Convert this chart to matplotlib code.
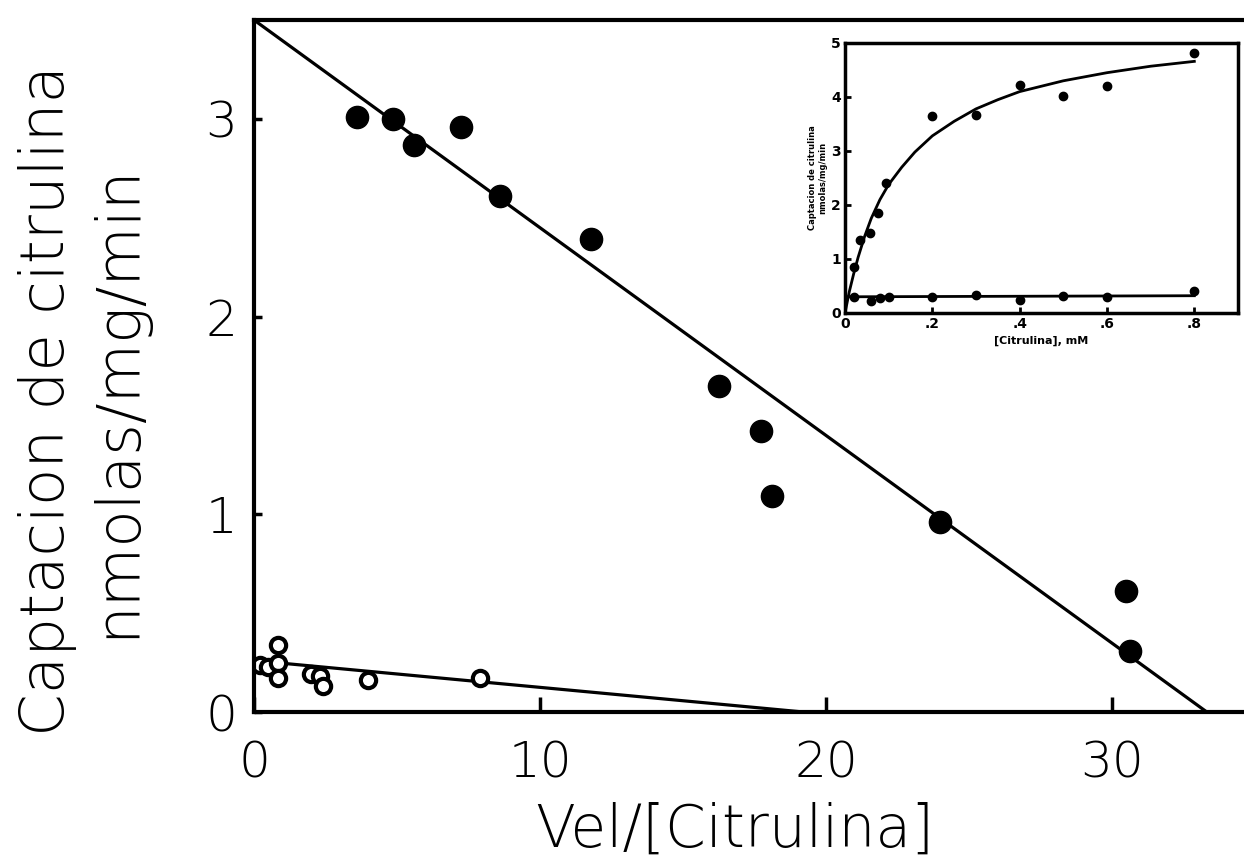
import numpy as np
import matplotlib
matplotlib.use('Agg')
import matplotlib.pyplot as plt

# main plot: Eadie-Hofstee
x_filled = [3.6, 4.86, 5.59, 7.23, 8.59, 11.77, 16.24, 17.71, 18.09, 23.96, 30.49, 30.6]
y_filled = [3.01, 3.0, 2.87, 2.96, 2.61, 2.39, 1.65, 1.42, 1.09, 0.96, 0.61, 0.31]

x_open = [0.2, 0.5, 0.85, 0.85, 0.85, 2.0, 2.3, 2.4, 4.0, 7.9]
y_open = [0.24, 0.23, 0.34, 0.25, 0.17, 0.19, 0.18, 0.13, 0.16, 0.17]

fit_filled_x = [0, 33.3]
fit_filled_y = [3.5, 0]
fit_open_x = [0, 19.2]
fit_open_y = [0.26, 0]

# inset: saturation curve
s_upper = [0.02, 0.035, 0.057, 0.076, 0.095, 0.2, 0.3, 0.4, 0.5, 0.6, 0.8]
v_upper = [0.86, 1.36, 1.48, 1.85, 2.4, 3.64, 3.67, 4.23, 4.01, 4.2, 4.81]
s_lower = [0.02, 0.06, 0.08, 0.1, 0.2, 0.3, 0.4, 0.5, 0.6, 0.8]
v_lower = [0.3, 0.22, 0.28, 0.3, 0.3, 0.33, 0.25, 0.32, 0.3, 0.4]

curve_s = [0.0, 0.005, 0.01, 0.02, 0.03, 0.045, 0.06, 0.08, 0.1, 0.13, 0.16, 0.2,
           0.25, 0.3, 0.35, 0.4, 0.5, 0.6, 0.7, 0.8]
curve_v = [0.0, 0.2, 0.4, 0.73, 1.03, 1.42, 1.75, 2.1, 2.38, 2.7, 2.98, 3.28,
           3.55, 3.78, 3.95, 4.1, 4.3, 4.45, 4.57, 4.66]
lower_line_s = [0.0, 0.8]
lower_line_v = [0.3, 0.32]

plt.rcParams['font.family'] = ['DejaVu Sans']

fig = plt.figure(figsize=(12.44, 8.65), dpi=100)
ax = fig.add_axes([254/1244, 1 - 712/865, 1 - 254/1244, (712 - 20)/865])

ax.plot(fit_filled_x, fit_filled_y, color='black', lw=2.3)
ax.plot(fit_open_x, fit_open_y, color='black', lw=2.3)
ax.plot(x_filled, y_filled, 'o', color='black', ms=16)
ax.plot(x_open, y_open, 'o', mfc='white', mec='black', ms=11, mew=3)

ax.set_xlim(0, 34.6)
ax.set_ylim(0, 3.5)
ax.set_xticks([0, 10, 20, 30])
ax.set_yticks([0, 1, 2, 3])
ax.tick_params(axis='x', direction='in', length=11, width=2.5, labelsize=36, pad=20)
ax.tick_params(axis='y', direction='in', length=6, width=2.5, labelsize=36, pad=12)
for lab in ax.get_xticklabels() + ax.get_yticklabels():
    lab.set_fontweight('light')
for s in ['left', 'bottom', 'top']:
    ax.spines[s].set_linewidth(3)
ax.spines['right'].set_visible(False)

ax.set_xlabel('Vel/[Citrulina]', fontsize=42, fontweight='light')
ax.xaxis.set_label_coords(0.486, -0.13)
ax.set_ylabel('Captacion de citrulina\nnmolas/mg/min', fontsize=44, fontweight='light',
              linespacing=1.25)
ax.yaxis.set_label_coords(-0.108, 0.45)

# inset
ins = fig.add_axes([845/1244, 1 - 313/865, (1238 - 845)/1244, (313 - 43)/865])
ins.plot(curve_s, curve_v, color='black', lw=2)
ins.plot(lower_line_s, lower_line_v, color='black', lw=2)
ins.plot(s_upper, v_upper, 'o', color='black', ms=6)
ins.plot(s_lower, v_lower, 'o', color='black', ms=6)
ins.set_xlim(0, 0.9)
ins.set_ylim(0, 5)
ins.set_xticks([0, 0.2, 0.4, 0.6, 0.8])
ins.set_xticklabels(['0', '.2', '.4', '.6', '.8'])
ins.set_yticks([0, 1, 2, 3, 4, 5])
ins.tick_params(direction='in', length=4, width=2, labelsize=10, pad=3)
for lab in ins.get_xticklabels() + ins.get_yticklabels():
    lab.set_fontweight('bold')
for s in ins.spines.values():
    s.set_linewidth(2.5)
ins.set_xlabel('[Citrulina], mM', fontsize=8, fontweight='bold', labelpad=3)
ins.set_ylabel('Captacion de citrulina\nnmolas/mg/min', fontsize=6, fontweight='bold',
               labelpad=3)

fig.savefig('out.png', dpi=100)
